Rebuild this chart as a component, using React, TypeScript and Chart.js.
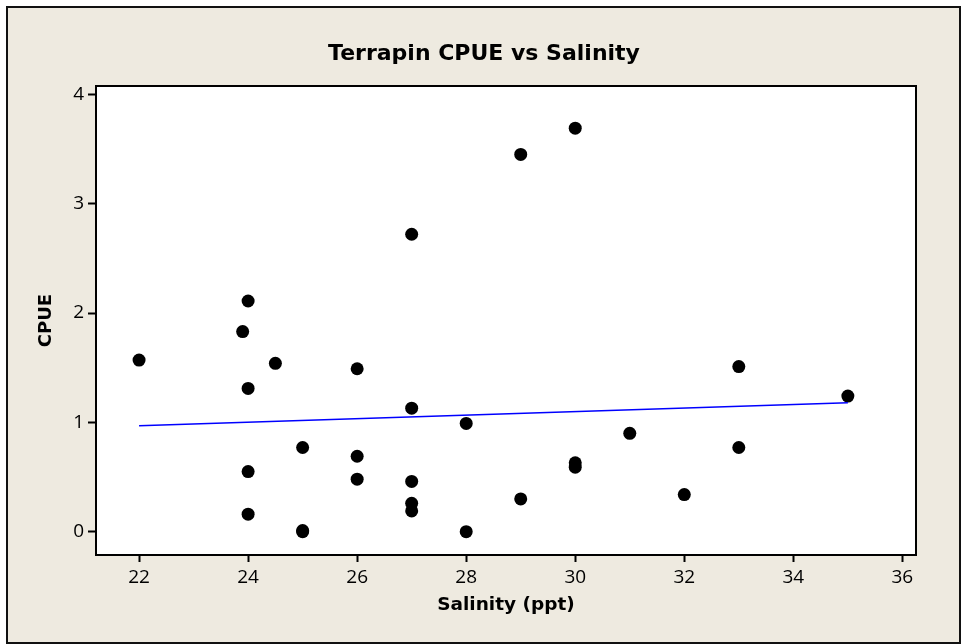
import React, { useEffect, useRef } from "react";
import { Chart, registerables } from "chart.js";

Chart.register(...registerables);

const chartTitle = "Terrapin CPUE vs Salinity";
const xAxisTitle = "Salinity (ppt)";
const yAxisTitle = "CPUE";

const salinity = [22, 23.9, 24, 24, 24, 24, 24.5, 25, 25, 25, 26, 26, 26, 27, 27, 27, 27, 27, 28, 28, 29, 29, 30, 30, 30, 31, 32, 33, 33, 35];
const cpue = [1.57, 1.83, 2.11, 1.31, 0.55, 0.16, 1.54, 0.77, 0.01, 0.0, 1.49, 0.69, 0.48, 2.72, 1.13, 0.46, 0.26, 0.19, 0.99, 0.0, 3.45, 0.3, 3.69, 0.63, 0.59, 0.9, 0.34, 1.51, 0.77, 1.24];

const fitX = [22, 35];
const fitY = [0.97, 1.18];

const xTicks = [22, 24, 26, 28, 30, 32, 34, 36];
const yTicks = [0, 1, 2, 3, 4];

const xMin = 21.21;
const xMax = 36.25;
const yMin = -0.213;
const yMax = 4.076;

const frameBg = "#EEEAE0";

const framePlugin = {
  id: "minitabFrame",
  beforeDraw(chart: any) {
    const { ctx, chartArea } = chart;
    ctx.save();
    ctx.fillStyle = "#ffffff";
    ctx.fillRect(0, 0, chart.width, chart.height);
    ctx.fillStyle = frameBg;
    ctx.fillRect(7, 7, 953, 636);
    ctx.strokeStyle = "#111111";
    ctx.lineWidth = 2;
    ctx.strokeRect(7, 7, 953, 636);
    ctx.fillStyle = "#ffffff";
    ctx.fillRect(chartArea.left, chartArea.top, chartArea.right - chartArea.left, chartArea.bottom - chartArea.top);
    ctx.restore();
  },
  beforeDatasetsDraw(chart: any) {
    const { ctx, chartArea } = chart;
    ctx.save();
    ctx.strokeStyle = "#000000";
    ctx.lineWidth = 2;
    ctx.strokeRect(chartArea.left, chartArea.top, chartArea.right - chartArea.left, chartArea.bottom - chartArea.top);
    ctx.restore();
  },
};

export default function App() {
  const ref = useRef<HTMLCanvasElement>(null);

  useEffect(() => {
    if (!ref.current) return;
    const points = salinity.map((x, i) => ({ x, y: cpue[i] }));
    const fit = fitX.map((x, i) => ({ x, y: fitY[i] }));
    const tickFont = { family: "'Open Sans', sans-serif", size: 19 };
    const chart = new Chart(ref.current, {
      type: "scatter",
      data: {
        datasets: [
          {
            label: "Fit",
            data: fit,
            showLine: true,
            borderColor: "#0000FF",
            borderWidth: 1.5,
            pointRadius: 0,
            fill: false,
          },
          {
            label: "CPUE",
            data: points,
            backgroundColor: "#000000",
            borderWidth: 0,
            pointRadius: 6.5,
          },
        ],
      },
      plugins: [framePlugin],
      options: {
        responsive: false,
        animation: false,
        devicePixelRatio: 1,
        layout: { padding: { left: 52, right: 47, top: 0, bottom: 0 } },
        plugins: {
          legend: { display: false },
          tooltip: { enabled: false },
          title: {
            display: true,
            text: chartTitle,
            color: "#000000",
            font: { family: "'DejaVu Sans', sans-serif", size: 22, weight: "bold" },
            padding: { top: 40.8, bottom: 18.8 },
          },
        },
        scales: {
          x: {
            type: "linear",
            position: "bottom",
            min: xMin,
            max: xMax,
            afterBuildTicks: (s: any) => {
              s.ticks = xTicks.map((v) => ({ value: v }));
            },
            afterFit: (s: any) => {
              s.height = 89;
            },
            ticks: {
              font: tickFont,
              color: "#000000",
              padding: 4,
              maxRotation: 0,
              autoSkip: false,
              callback: (v: any) => String(v),
            },
            grid: {
              display: true,
              drawOnChartArea: false,
              drawTicks: true,
              tickLength: 7,
              tickColor: "#000000",
              tickWidth: 2,
            },
            border: { display: false },
            title: {
              display: true,
              text: xAxisTitle,
              color: "#000000",
              font: { family: "'DejaVu Sans', sans-serif", size: 18.5, weight: "bold" },
              padding: { top: 0, bottom: 27.4 },
            },
          },
          y: {
            type: "linear",
            position: "left",
            min: yMin,
            max: yMax,
            afterBuildTicks: (s: any) => {
              s.ticks = yTicks.map((v) => ({ value: v }));
            },
            afterFit: (s: any) => {
              s.width = 44;
            },
            ticks: {
              font: tickFont,
              color: "#000000",
              padding: 4,
              autoSkip: false,
              callback: (v: any) => String(v),
            },
            grid: {
              display: true,
              drawOnChartArea: false,
              drawTicks: true,
              tickLength: 8,
              tickColor: "#000000",
              tickWidth: 2,
            },
            border: { display: false },
            title: {
              display: true,
              text: yAxisTitle,
              color: "#000000",
              font: { family: "'DejaVu Sans', sans-serif", size: 18, weight: "bold" },
              padding: { top: -16.1, bottom: 0 },
            },
          },
        },
      },
    } as any);
    return () => chart.destroy();
  }, []);

  return (
    <canvas
      ref={ref}
      width={963}
      height={644}
      style={{ position: "absolute", left: 0, top: 0, display: "block" }}
    />
  );
}
